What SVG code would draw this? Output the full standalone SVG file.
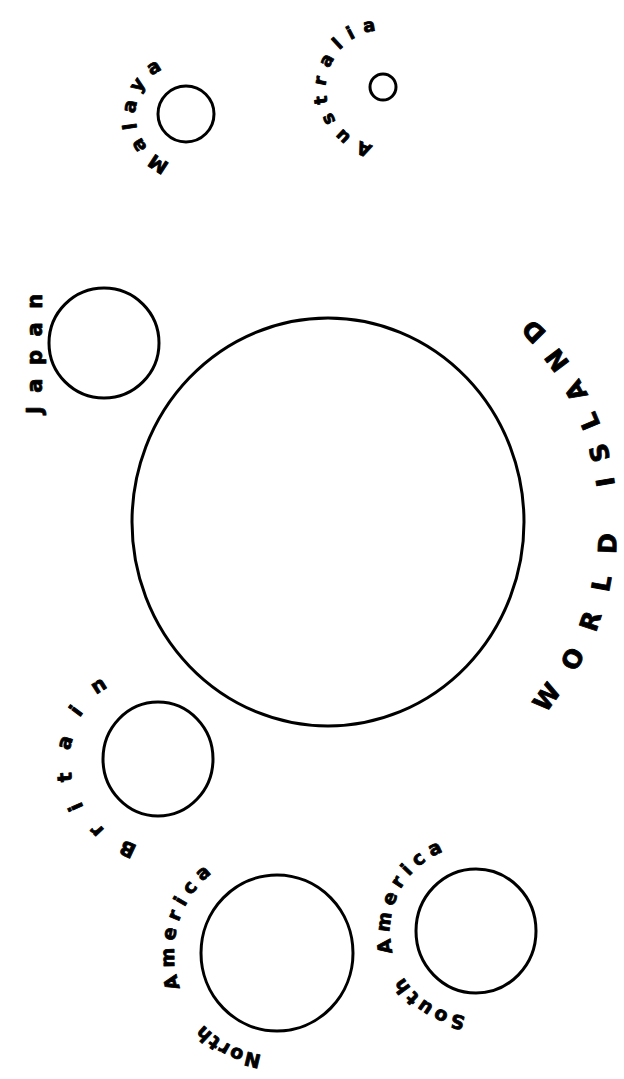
<svg xmlns="http://www.w3.org/2000/svg" xmlns:xlink="http://www.w3.org/1999/xlink" width="624" height="1079" viewBox="0 0 624 1079">
<style>
.c{fill:none;stroke:#000;stroke-width:3}
.t{font-family:"DejaVu Sans","Liberation Sans",sans-serif;font-weight:bold;fill:#000;stroke:#000;stroke-width:0.8;stroke-linejoin:round}
</style>
<defs>
<path id="pWorld" d="M353.19,809.9 A289,289 0 0 0 353.19,234.1"/>
<path id="pMalaya" d="M186,164.5 A50.5,50.5 0 1 1 194.77,64.27"/>
<path id="pAus" d="M384,146 A58,58 0 1 1 394.07,30.88"/>
<path id="pJapan" d="M42,460 L42,250"/>
<path id="pBritain" d="M158,846.5 A87.5,87.5 0 1 1 173.19,672.83"/>
<path id="pNA" d="M277,1056 A103,103 0 1 1 294.89,851.56"/>
<path id="pSA" d="M476,1017 A86,86 0 1 1 490.93,846.31"/>
</defs>
<rect width="624" height="1079" fill="#fff"/>
<g id="connectors"></g>
<g id="world-island">
<ellipse class="c" cx="328" cy="522" rx="196" ry="204" stroke-width="3.5"/>
<text class="t" font-size="25" stroke-width="1"><textPath href="#pWorld" xlink:href="#pWorld" startOffset="220.1"><tspan letter-spacing="23">WORLD</tspan><tspan letter-spacing="17"> ISLAND</tspan></textPath></text>
</g>
<g id="malaya">
<circle class="c" cx="186" cy="114" r="28"/>
<text class="t" font-size="19" letter-spacing="8.5"><textPath href="#pMalaya" xlink:href="#pMalaya" startOffset="15.5">Malaya</textPath></text>
</g>
<g id="australia">
<circle class="c" cx="383" cy="87" r="13"/>
<text class="t" font-size="18" letter-spacing="8.9"><textPath href="#pAus" xlink:href="#pAus" startOffset="11">Australia</textPath></text>
</g>
<g id="japan">
<circle class="c" cx="104" cy="343" r="55"/>
<text class="t" font-size="21" letter-spacing="13.5"><textPath href="#pJapan" xlink:href="#pJapan" startOffset="46">Japan</textPath></text>
</g>
<g id="britain">
<ellipse class="c" cx="158" cy="759" rx="55" ry="57"/>
<text class="t" font-size="20" letter-spacing="20.9"><textPath href="#pBritain" xlink:href="#pBritain" startOffset="19.9">Britain</textPath></text>
</g>
<g id="north-america">
<ellipse class="c" cx="277" cy="953" rx="76" ry="78"/>
<text class="t" font-size="19"><textPath href="#pNA" xlink:href="#pNA" startOffset="15.3" letter-spacing="1.5">North </textPath><textPath href="#pNA" xlink:href="#pNA" startOffset="125.7" letter-spacing="6.6">America</textPath></text>
</g>
<g id="south-america">
<ellipse class="c" cx="476" cy="931" rx="60" ry="62"/>
<text class="t" font-size="19"><textPath href="#pSA" xlink:href="#pSA" startOffset="10.3" letter-spacing="3.3">South </textPath><textPath href="#pSA" xlink:href="#pSA" startOffset="112.7" letter-spacing="6">America</textPath></text>
</g>
</svg>
